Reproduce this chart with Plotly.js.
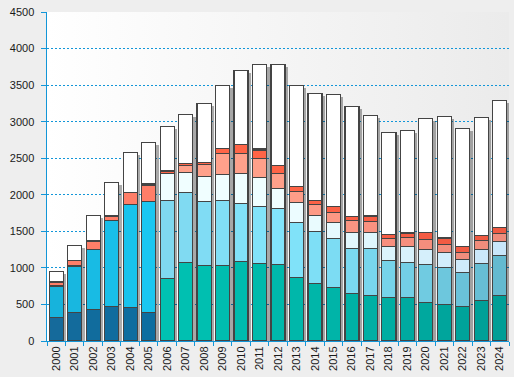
<!DOCTYPE html>
<html>
<head>
<meta charset="utf-8">
<script src="https://cdn.plot.ly/plotly-3.0.1.min.js"></script>
<style>
  html, body { margin: 0; padding: 0; background: #eeeeee; }
  #chart { width: 514px; height: 377px; }
</style>
</head>
<body>
<div id="chart"></div>
<script>
// ---- data (stack order bottom -> top) ----
const years = ['2000','2001','2002','2003','2004','2005','2006','2007','2008','2009','2010','2011','2012',
               '2013','2014','2015','2016','2017','2018','2019','2020','2021','2022','2023','2024'];
const segA = [320, 389, 430, 471, 457, 389, 855, 1074, 1033, 1033, 1088, 1060, 1047, 868, 786, 732, 649, 622, 594, 594, 526, 499, 471, 553, 622];
const segB = [433, 638, 822, 1178, 1411, 1520, 1068, 959, 877, 890, 794, 781, 767, 754, 713, 671, 617, 644, 507, 480, 521, 506, 466, 507, 548];
const segC = [0, 0, 0, 0, 0, 0, 370, 274, 342, 356, 411, 397, 274, 274, 219, 219, 219, 219, 192, 219, 205, 206, 178, 192, 192];
const segD = [0, 0, 0, 0, 0, 0, 0, 96, 164, 288, 274, 261, 205, 151, 150, 137, 164, 151, 110, 123, 137, 110, 96, 123, 109];
const segE = [47, 74, 110, 50, 165, 220, 32, 27, 28, 69, 123, 104, 110, 68, 55, 82, 59, 63, 55, 55, 96, 76, 82, 69, 82];
const segF = [18, 0, 13, 23, 0, 18, 0, 0, 0, 0, 0, 23, 0, 0, 0, 0, 0, 23, 0, 14, 0, 19, 0, 0, 0];
const segG = [132, 206, 343, 448, 548, 571, 612, 671, 808, 863, 1009, 1155, 1378, 1384, 1466, 1534, 1503, 1366, 1397, 1397, 1562, 1658, 1617, 1616, 1740];
const segments = [segA, segB, segC, segD, segE, segF, segG];

// ---- styles ----
function hex(c){ return [parseInt(c.slice(1,3),16), parseInt(c.slice(3,5),16), parseInt(c.slice(5,7),16)]; }
function mix(c1, c2, t){
  const a = hex(c1), b = hex(c2);
  return 'rgb(' + a.map((v,k)=>Math.round(v + (b[k]-v)*t)).join(',') + ')';
}
// colour ramp across the bars: early period (first 6 bars) and later period
function ramp(earlyFrom, earlyTo, lateStops){
  return years.map((y, i) => {
    if (i < 6) return mix(earlyFrom, earlyTo, i / 5);
    const t = (i - 6) / 18;
    const n = lateStops.length - 1;
    const k = Math.min(n - 1, Math.floor(t * n));
    return mix(lateStops[k], lateStops[k+1], t * n - k);
  });
}
const colors = [
  ramp('#156a9b', '#0c6ea0', ['#00c2b2', '#00b4a8', '#009e96']),
  ramp('#17b3dc', '#1ac7f1', ['#7fd8f0', '#82e5fc', '#76d3ea', '#64bad0']),
  ramp('#f0feff', '#f0feff', ['#f0feff', '#effeff', '#dcf4fc', '#c8e6fa']),
  ramp('#ffa08a', '#ffa08a', ['#ffa28c', '#ffa08a', '#f88f7e', '#ee8c7c']),
  ramp('#ff7e68', '#ff7e68', ['#ff6648', '#ff6446', '#f65c44', '#ee5a42']),
  years.map(() => '#444444'),
  years.map(() => '#ffffff')
];
const edge = '#444444';
const blue = '#1296d8';
const barWidth = 0.76;

const totals = years.map((y, i) => segments.reduce((s, arr) => s + arr[i], 0));

const traces = [];
// drop shadow (own subplot so it is not stacked)
traces.push({
  type: 'bar', x: years, y: totals, base: -40,
  xaxis: 'x', yaxis: 'y',
  width: barWidth, offset: -barWidth / 2 + 0.16,
  marker: { color: 'rgba(0,0,0,0.32)', line: { width: 0 } },
  hoverinfo: 'skip', showlegend: false
});
segments.forEach((seg, s) => {
  traces.push({
    type: 'bar', x: years, y: seg,
    xaxis: 'x2', yaxis: 'y',
    width: barWidth,
    marker: { color: colors[s], line: { color: edge, width: 1.2 } },
    showlegend: false, hoverinfo: 'x+y'
  });
});

const bgSvg = '<svg xmlns="http://www.w3.org/2000/svg" width="100" height="100" preserveAspectRatio="none">' +
  '<defs><linearGradient id="g" x1="0" y1="0" x2="1" y2="0">' +
  '<stop offset="0" stop-color="#ffffff"/><stop offset="1" stop-color="#ebebeb"/></linearGradient></defs>' +
  '<rect width="100" height="100" fill="url(#g)"/></svg>';

const layout = {
  width: 514, height: 377,
  margin: { l: 47, r: 5, t: 12, b: 36 },
  paper_bgcolor: '#eeeeee',
  plot_bgcolor: 'rgba(0,0,0,0)',
  barmode: 'stack',
  showlegend: false,
  font: { family: 'Liberation Sans, Arial, sans-serif', size: 11, color: '#1a1a1a' },
  images: [{
    source: 'data:image/svg+xml;charset=utf-8,' + encodeURIComponent(bgSvg),
    xref: 'paper', yref: 'paper', x: 0, y: 1, sizex: 1, sizey: 1,
    sizing: 'stretch', xanchor: 'left', yanchor: 'top', layer: 'below'
  }],
  xaxis: {
    type: 'category', categoryorder: 'array', categoryarray: years,
    range: [-0.5, years.length - 0.5],
    showgrid: false, zeroline: false,
    showline: true, linecolor: blue, linewidth: 1,
    ticks: 'outside', tickson: 'boundaries', ticklen: 4, tickcolor: blue,
    tickangle: -90, tickfont: { size: 11, color: '#1a1a1a' }
  },
  xaxis2: {
    type: 'category', categoryorder: 'array', categoryarray: years,
    overlaying: 'x', range: [-0.5, years.length - 0.5],
    visible: false
  },
  yaxis: {
    range: [0, 4500], dtick: 500, tick0: 0,
    showline: true, linecolor: blue, linewidth: 1.5,
    ticks: 'outside', ticklen: 5, tickcolor: blue,
    showgrid: true, gridcolor: blue, gridwidth: 1.2, griddash: '2px,2px',
    zeroline: false,
    ticklabelstandoff: 4,
    tickfont: { size: 11, color: '#1a1a1a' }
  }
};

Plotly.newPlot('chart', traces, layout, { displayModeBar: false, staticPlot: true });
</script>
</body>
</html>
